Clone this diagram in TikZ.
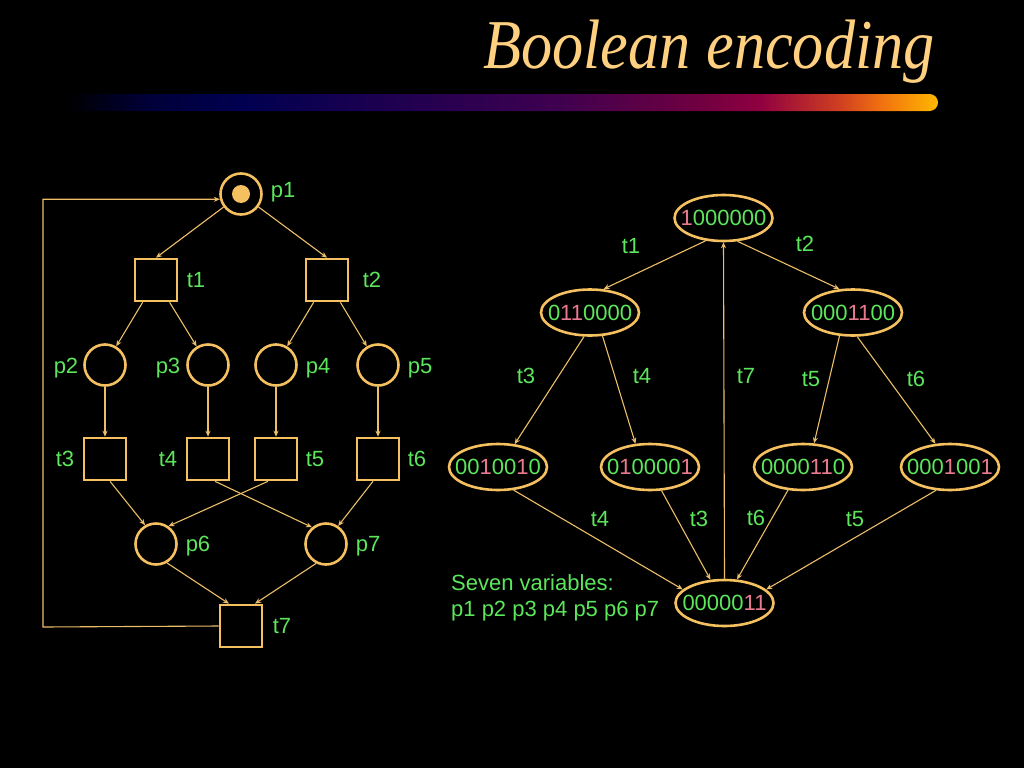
\documentclass[tikz,border=0pt]{standalone}
\usepackage{fontspec}
\setmainfont{Liberation Sans}
\newfontfamily\titlefont{Liberation Serif}
\usetikzlibrary{shapes.geometric,arrows.meta}
\definecolor{gold}{HTML}{F5C060}
\definecolor{gline}{HTML}{EDBE68}
\definecolor{lgreen}{HTML}{5CE65C}
\definecolor{lpink}{HTML}{E87A90}
\definecolor{ttl}{HTML}{FFD080}
\definecolor{ba}{HTML}{000000}
\definecolor{bb}{HTML}{00003A}
\definecolor{bc}{HTML}{000050}
\definecolor{bd}{HTML}{200050}
\definecolor{be}{HTML}{400050}
\definecolor{bf}{HTML}{700040}
\definecolor{bg}{HTML}{900040}
\definecolor{bh}{HTML}{D04020}
\definecolor{bi}{HTML}{F07010}
\definecolor{bj}{HTML}{FFB800}
\pgfdeclarehorizontalshading{barshade}{100bp}{color(0bp)=(ba); color(25bp)=(ba); color(29.9bp)=(bb); color(35bp)=(bc); color(44.2bp)=(bd); color(53.4bp)=(be); color(61.4bp)=(bf); color(64.8bp)=(bg); color(69.4bp)=(bh); color(71.7bp)=(bi); color(75bp)=(bj); color(100bp)=(bj)}
\newcommand\gz[1]{\textcolor{lgreen}{#1}}
\newcommand\pk[1]{\textcolor{lpink}{#1}}
\tikzset{
  place/.style={circle, draw=gold, line width=2.6pt, minimum size=41pt, inner sep=0pt},
  trans/.style={rectangle, draw=gold, line width=2.6pt, minimum size=42pt, inner sep=0pt},
  state/.style={ellipse, draw=gold, line width=2.6pt, minimum width=98pt, minimum height=46pt, inner xsep=-8.3pt, inner ysep=0pt, font=\fontsize{22}{24}\selectfont},
  lbl/.style={text=lgreen, inner sep=0pt, font=\fontsize{22}{26}\selectfont},
  arc/.style={draw=gline, line width=1.1pt, -{Stealth[length=6pt,width=5pt]}},
}
\begin{document}
\begin{tikzpicture}[x=1pt,y=-1pt]
\fill[black] (0,0) rectangle (1024,768);
\useasboundingbox (0,0) rectangle (1024,768);
% title
\node[anchor=base east, text=ttl, inner sep=0pt, font=\titlefont\itshape\fontsize{70}{76}\selectfont] (title) at (935,68) {\scalebox{0.89}[1]{Boolean encoding}};
\shade[shading=barshade, rounded corners=8.5pt] (65,94) rectangle (938,111);
% Petri net
\node[place] (p1) at (241,194) {};
\fill[gold] (p1.center) circle (9);
\node[trans] (t1) at (156,280) {};
\node[trans] (t2) at (327,280) {};
\node[place] (p2) at (105,365) {};
\node[place] (p3) at (208,365) {};
\node[place] (p4) at (276,365) {};
\node[place] (p5) at (378,365) {};
\node[trans] (t3) at (105,459) {};
\node[trans] (t4) at (208,459) {};
\node[trans] (t5) at (276,459) {};
\node[trans] (t6) at (378,459) {};
\node[place] (p6) at (156,544) {};
\node[place] (p7) at (326,544) {};
\node[trans] (t7) at (241,626) {};
% labels
\node[lbl] (lp1) at (283,192) {p1};
\node[lbl] (lt1) at (196,280) {t1};
\node[lbl] (lt2) at (372,280) {t2};
\node[lbl] (lp2) at (66,368) {p2};
\node[lbl] (lp3) at (168,368) {p3};
\node[lbl] (lp4) at (318,368) {p4};
\node[lbl] (lp5) at (420,368) {p5};
\node[lbl] (lt3) at (65,459) {t3};
\node[lbl] (lt4) at (168,459) {t4};
\node[lbl] (lt5) at (315,459) {t5};
\node[lbl] (lt6) at (417,459) {t6};
\node[lbl] (lp6) at (198,546) {p6};
\node[lbl] (lp7) at (368,546) {p7};
\node[lbl] (lt7) at (282,626) {t7};
% arcs
\draw[arc] (p1) -- (t1.north);
\draw[arc] (p1) -- (t2.north);
\draw[arc] (t1) -- (p2);
\draw[arc] (t1) -- (p3);
\draw[arc] (t2) -- (p4);
\draw[arc] (t2) -- (p5);
\draw[arc] (p2) -- (t3);
\draw[arc] (p3) -- (t4);
\draw[arc] (p4) -- (t5);
\draw[arc] (p5) -- (t6);
\draw[arc] ([xshift=5pt]t3.south) -- (p6.120);
\draw[arc] ([xshift=7pt]t4.south) -- (p7.130);
\draw[arc] ([xshift=-8pt]t5.south) -- (p6.55);
\draw[arc] ([xshift=-5pt]t6.south) -- (p7.56);
\draw[arc] (p6.300) -- ([xshift=-12pt]t7.north);
\draw[arc] (p7.243) -- ([xshift=14pt]t7.north);
\coordinate (fb) at (43,627);
\draw[arc] (t7.west) -- (fb) |- (p1.194);
% reachability graph
\node[state] (s1) at (723.5,218) {\pk{1}\gz{000000}};
\node[state] (s2) at (590,312.5) {\gz{0}\pk{11}\gz{0000}};
\node[state] (s3) at (853,312.5) {\gz{000}\pk{11}\gz{00}};
\node[state] (s4) at (498,467) {\gz{00}\pk{1}\gz{00}\pk{1}\gz{0}};
\node[state] (s5) at (650,467) {\gz{0}\pk{1}\gz{0000}\pk{1}};
\node[state] (s6) at (803,467) {\gz{0000}\pk{11}\gz{0}};
\node[state] (s7) at (950,467) {\gz{000}\pk{1}\gz{00}\pk{1}};
\node[state] (s8) at (724.5,603) {\gz{00000}\pk{11}};
\draw[arc] (s1.232) -- (s2.60);
\draw[arc] (s1.301) -- (s3.120);
\draw[arc] (s2.256) -- (s4.54);
\draw[arc] (s2.298) -- (s5.122);
\draw[arc] (s3.240) -- (s6.65);
\draw[arc] (s3.280) -- (s7.122);
\draw[arc] (s4.304) -- (s8.162);
\draw[arc] (s5.296) -- (s8.121);
\draw[arc] (s6.237) -- (s8.62.5);
\draw[arc] (s7.239) -- (s8.18);
\draw[arc] (s8.north) -- (s1.south);
% edge labels
\node[lbl] (e1) at (631,246) {t1};
\node[lbl] (e2) at (805,244) {t2};
\node[lbl] (e3) at (526,376) {t3};
\node[lbl] (e4) at (642,376) {t4};
\node[lbl] (e7) at (746,376) {t7};
\node[lbl] (e5) at (811,379) {t5};
\node[lbl] (e6) at (916,379) {t6};
\node[lbl] (e8) at (600,519) {t4};
\node[lbl] (e9) at (699,519) {t3};
\node[lbl] (e10) at (756,518) {t6};
\node[lbl] (e11) at (855,519) {t5};
\node[lbl, anchor=west] (v1) at (451,583) {Seven variables:};
\node[lbl, anchor=west] (v2) at (451,611) {p1 p2 p3 p4 p5 p6 p7};
\end{tikzpicture}
\end{document}
